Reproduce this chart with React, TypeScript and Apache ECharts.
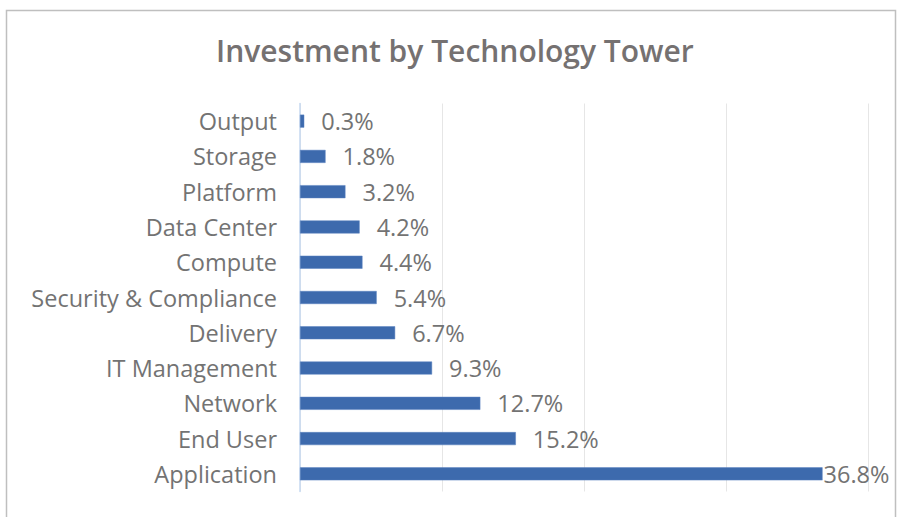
import React, { useEffect, useRef } from "react";
import * as echarts from "echarts";

const categories = [
  "Application",
  "End User",
  "Network",
  "IT Management",
  "Delivery",
  "Security & Compliance",
  "Compute",
  "Data Center",
  "Platform",
  "Storage",
  "Output",
];
const values = [36.8, 15.2, 12.7, 9.3, 6.7, 5.4, 4.4, 4.2, 3.2, 1.8, 0.3];
const titleText = "Investment by Technology Tower";

export default function App() {
  const ref = useRef<HTMLDivElement>(null);
  useEffect(() => {
    const chart = echarts.init(ref.current!, undefined, { renderer: "svg" });
    const font = "Open Sans";
    chart.setOption({
      animation: false,
      backgroundColor: "#ffffff",
      title: {
        text: titleText,
        left: 211,
        top: 30,
        textStyle: {
          fontFamily: font,
          fontSize: 30,
          fontWeight: 600,
          color: "#757171",
        },
      },
      graphic: [
        {
          type: "rect",
          shape: { x: 6.5, y: 10.5, width: 889, height: 600 },
          style: { fill: "none", stroke: "#bfbfbf", lineWidth: 1.5 },
          silent: true,
        },
      ],
      grid: { left: 300, right: 30, top: 103.5, bottom: 25.5 },
      xAxis: {
        type: "value",
        min: 0,
        max: 40,
        interval: 10,
        axisLabel: { show: false },
        axisLine: { show: false },
        axisTick: { show: false },
        splitLine: { show: true, lineStyle: { color: "#e6e6e6", width: 1 } },
      },
      yAxis: {
        type: "category",
        data: categories,
        axisTick: { show: false },
        axisLine: { show: true, lineStyle: { color: "#c6d9f1", width: 1.5 } },
        axisLabel: {
          margin: 23,
          fontFamily: font,
          fontSize: 23.5,
          color: "#737373",
        },
      },
      series: [
        {
          type: "bar",
          data: values.map((v, i) =>
            i === 0
              ? { value: v, label: { distance: 1 } }
              : { value: v }
          ),
          barWidth: 13,
          itemStyle: { color: "#3d6aad", borderColor: "#5b82c0", borderWidth: 0.5 },
          label: {
            show: true,
            position: "right",
            distance: 17,
            formatter: (p: any) => p.value.toFixed(1) + "%",
            fontFamily: font,
            fontSize: 23.5,
            color: "#737373",
          },
        },
      ],
    });
    return () => chart.dispose();
  }, []);
  return (
    <div
      ref={ref}
      style={{ position: "fixed", left: 0, top: 0, width: 898, height: 517 }}
    />
  );
}
